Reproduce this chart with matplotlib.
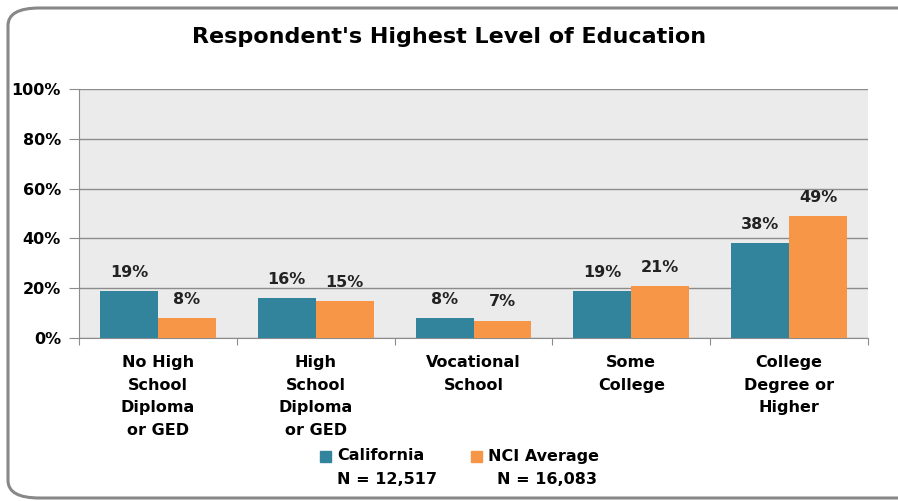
import numpy as np
import matplotlib
matplotlib.use('Agg')
import matplotlib.pyplot as plt
from matplotlib.patches import FancyBboxPatch, Rectangle

plt.rcParams['font.family'] = ['DejaVu Sans']
plt.rcParams['font.weight'] = 'bold'

# 数据
categories = ['No High\nSchool\nDiploma\nor GED', 'High\nSchool\nDiploma\nor GED',
              'Vocational\nSchool', 'Some\nCollege', 'College\nDegree or\nHigher']
california = [19, 16, 8, 19, 38]
nci_average = [8, 15, 7, 21, 49]
series_names = ['California', 'NCI Average']
series_n = ['N = 12,517', 'N = 16,083']
yticks = [0, 20, 40, 60, 80, 100]

teal = '#31849B'
orange = '#F79646'

W, H = 898, 501
fig = plt.figure(figsize=(W / 100, H / 100), dpi=100)

# 外框 (圆角)
frame = FancyBboxPatch((8 / W, 3 / H), 950 / W, 490 / H,
                       boxstyle='round,pad=0,rounding_size=0.035',
                       transform=fig.transFigure, fill=False,
                       edgecolor='#888888', linewidth=2.2, clip_on=False)
fig.patches.append(frame)

ax = fig.add_axes([79 / W, 1 - 338 / H, (868 - 79) / W, (338 - 89) / H])
ax.set_facecolor('#EBEBEB')

x = np.arange(len(categories))
bw = 0.367
b1 = ax.bar(x - bw / 2, california, bw, color=teal, label=series_names[0], zorder=3)
b2 = ax.bar(x + bw / 2, nci_average, bw, color=orange, label=series_names[1], zorder=3)

# 数据标签
for bars in (b1, b2):
    for rect in bars:
        v = rect.get_height()
        ax.annotate(f'{v:.0f}%', (rect.get_x() + rect.get_width() / 2, v),
                    xytext=(0, 8), textcoords='offset points',
                    ha='center', va='bottom', fontsize=11.5, fontweight='bold',
                    color='#222222')

ax.set_xlim(-0.5, len(categories) - 0.5)
ax.set_ylim(0, 100)
ax.set_yticks(yticks)
ax.set_yticklabels([f'{t}%' for t in yticks], fontsize=11.5, fontweight='bold')
ax.yaxis.grid(True, color='#8C8C8C', linewidth=1.0, zorder=0)
ax.set_axisbelow(True)

ax.set_xticks(np.arange(len(categories) + 1) - 0.5)
ax.set_xticklabels([])
ax.tick_params(axis='x', length=5, color='#8C8C8C', direction='out')
ax.tick_params(axis='y', length=7, color='#8C8C8C', direction='out', pad=6)
for i, c in enumerate(categories):
    ax.text(i, -7, c, ha='center', va='top', fontsize=11.5, fontweight='bold',
            linespacing=1.62, transform=ax.transData, clip_on=False)

for s in ['top', 'right']:
    ax.spines[s].set_visible(False)
for s in ['left', 'bottom']:
    ax.spines[s].set_color('#8C8C8C')

fig.text(0.5, 1 - 37 / H, "Respondent's Highest Level of Education",
         ha='center', va='center', fontsize=16, fontweight='bold')

# 图例
leg_items = [(320, teal, 387), (471, orange, 547)]
for (lx, col, nx), name, n in zip(leg_items, series_names, series_n):
    fig.patches.append(Rectangle((lx / W, 1 - 462 / H), 11 / W, 11 / H,
                                 transform=fig.transFigure, color=col))
    fig.text((lx + 17) / W, 1 - 456 / H, name, ha='left', va='center',
             fontsize=11.5, fontweight='bold')
    fig.text(nx / W, 1 - 479 / H, n, ha='center', va='center',
             fontsize=11.5, fontweight='bold')

fig.savefig('out.png', dpi=100)
